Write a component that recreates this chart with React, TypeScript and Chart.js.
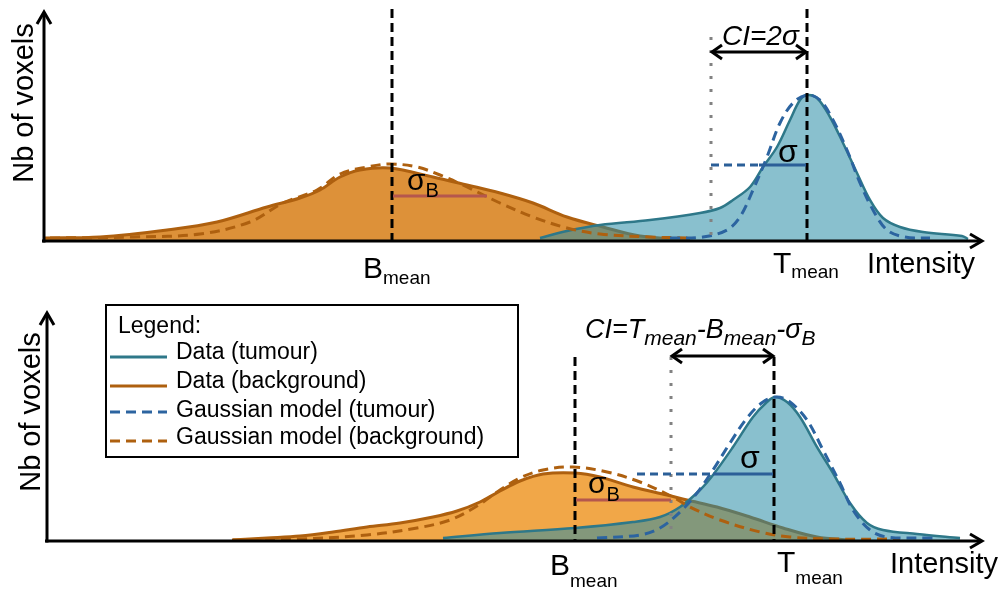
import { useEffect, useRef } from "react";
import { Chart, registerables } from "chart.js";

Chart.register(...registerables);

const FONT = '"Liberation Sans", Arial, Helvetica, sans-serif';

// ---------- Upper panel: tumour peak well separated from background (CI = 2σ) ----------
const upperBgIntensity = [1, 56, 123, 173, 223, 256, 276, 296, 316, 346, 389, 423, 456, 489, 523, 559, 596, 646];
const upperBgCount = [3, 4, 11, 19, 34, 43, 51, 64, 71, 73, 64, 56, 48, 38, 24, 14, 5, 1];
const upperBgFitIntensity = [6, 89, 156, 206, 239, 273, 296, 323, 346, 373, 396, 423, 456, 489, 523, 556, 606, 646];
const upperBgFitCount = [3, 4, 7, 19, 38, 51, 67, 74, 77, 74, 66, 54, 38, 24, 13, 7, 4, 3];
const upperTuIntensity = [496, 523, 556, 606, 656, 676, 689, 706, 719, 733, 746, 756, 763, 773, 786, 799, 813, 826, 839, 856, 879, 918, 924];
const upperTuCount = [3, 10, 16, 21, 28, 33, 41, 54, 74, 94, 121, 141, 146, 143, 124, 98, 68, 41, 23, 14, 9, 5, 2];
const upperTuFitIntensity = [626, 659, 683, 696, 709, 723, 736, 749, 763, 776, 789, 803, 816, 829, 843, 861, 886];
const upperTuFitCount = [3, 4, 11, 24, 51, 84, 118, 138, 146, 141, 121, 91, 58, 31, 11, 4, 3];

const upperBMean = 348;
const upperTMean = 763;
const upperSigmaT = 48;
const upperSigmaB = 95;

// ---------- Lower panel: overlapping distributions (CI = Tmean - Bmean - σB) ----------
const lowerBgIntensity = [185, 220, 253, 286, 320, 353, 386, 410, 433, 453, 473, 496, 528, 553, 586, 620, 640, 670, 703, 736, 770, 803];
const lowerBgCount = [1, 3, 5, 9, 14, 18, 24, 30, 39, 50, 60, 67, 68, 64, 54, 46, 41, 34, 24, 13, 4, 1];
const lowerBgFitIntensity = [186, 253, 320, 370, 403, 430, 453, 473, 496, 526, 560, 593, 626, 643, 673, 713, 743, 786, 853];
const lowerBgFitCount = [1, 2, 6, 13, 21, 35, 51, 63, 71, 74, 69, 59, 44, 34, 21, 9, 4, 2, 2];
const lowerTuIntensity = [396, 453, 528, 586, 613, 633, 653, 666, 686, 706, 720, 728, 740, 753, 770, 786, 803, 820, 836, 870, 913];
const lowerTuCount = [3, 8, 13, 19, 24, 34, 51, 66, 94, 124, 139, 144, 139, 124, 94, 68, 38, 18, 11, 7, 3];
const lowerTuFitIntensity = [550, 593, 613, 633, 650, 666, 683, 700, 716, 730, 743, 760, 776, 793, 806, 823, 840, 886];
const lowerTuFitCount = [3, 6, 13, 29, 48, 71, 98, 123, 139, 144, 139, 121, 91, 58, 31, 11, 4, 3];

const lowerBMean = 528;
const lowerTMean = 727;
const lowerSigmaT = 61;
const lowerSigmaB = 96;

const legendEntries = [
  "Data (tumour)",
  "Data (background)",
  "Gaussian model (tumour)",
  "Gaussian model (background)",
];

const COLORS = {
  bgLine: "#ae600f",
  bgFillUpper: "#dd9139",
  bgFillLower: "#f1a748",
  tuLine: "#2e7889",
  tuFill: "rgba(40,140,165,0.55)",
  tuFit: "#2c64a0",
  sigma: "#2b5f98",
  sigmaB: "#b5574d",
  guide: "#828282",
};

type Run = { text: string; size: number; italic?: boolean; dy?: number };
type Label = { x: number; y: number; runs: Run[]; align?: "left" | "center"; rotate?: boolean };

interface Panel {
  bg: [number[], number[]];
  bgFit: [number[], number[]];
  tu: [number[], number[]];
  tuFit: [number[], number[]];
  bgFill: string;
  bMean: number;
  tMean: number;
  sigmaT: number;
  sigmaTLevel: number;
  sigmaGuideFrom: number;
  sigmaB: number;
  sigmaBLevel: number;
  ciFrom: number;
  ciLevel: number;
  guideTop: number;
  guideBottom: number;
  meanTop: number;
  xMax: number;
  yMax: number;
  padding: { left: number; right: number; top: number; bottom: number };
  tipGap: number;
  labels: Label[];
  legend: boolean;
}

const sub = (text: string, size: number, dy: number, italic = false): Run => ({ text, size, dy, italic });
const big = (text: string, size: number, italic = false): Run => ({ text, size, italic });

const upperPanel: Panel = {
  bg: [upperBgIntensity, upperBgCount],
  bgFit: [upperBgFitIntensity, upperBgFitCount],
  tu: [upperTuIntensity, upperTuCount],
  tuFit: [upperTuFitIntensity, upperTuFitCount],
  bgFill: COLORS.bgFillUpper,
  bMean: upperBMean,
  tMean: upperTMean,
  sigmaT: upperSigmaT,
  sigmaTLevel: 76,
  sigmaGuideFrom: upperTMean - 2 * upperSigmaT,
  sigmaB: upperSigmaB,
  sigmaBLevel: 45,
  ciFrom: upperTMean - 2 * upperSigmaT,
  ciLevel: 189,
  guideTop: 204,
  guideBottom: 3,
  meanTop: 232,
  xMax: 936,
  yMax: 232,
  padding: { left: 44, right: 25, top: 9, bottom: 49 },
  tipGap: 3,
  legend: false,
  labels: [
    { x: -11, y: 138, runs: [big("Nb of voxels", 29)], align: "center", rotate: true },
    { x: 319, y: -37, runs: [big("B", 30), sub("mean", 19, 6)] },
    { x: 729, y: -32, runs: [big("T", 30), sub("mean", 19, 5)] },
    { x: 823, y: -32, runs: [big("Intensity", 29)] },
    { x: 734, y: 79, runs: [big("σ", 32)] },
    { x: 363, y: 51, runs: [big("σ", 30), sub("B", 20, 7)] },
    { x: 678, y: 196, runs: [big("CI=2σ", 28, true)] },
  ],
};

const lowerPanel: Panel = {
  bg: [lowerBgIntensity, lowerBgCount],
  bgFit: [lowerBgFitIntensity, lowerBgFitCount],
  tu: [lowerTuIntensity, lowerTuCount],
  tuFit: [lowerTuFitIntensity, lowerTuFitCount],
  bgFill: COLORS.bgFillLower,
  bMean: lowerBMean,
  tMean: lowerTMean,
  sigmaT: lowerSigmaT,
  sigmaTLevel: 67,
  sigmaGuideFrom: 590,
  sigmaB: lowerSigmaB,
  sigmaBLevel: 41,
  ciFrom: lowerBMean + lowerSigmaB,
  ciLevel: 185,
  guideTop: 184,
  guideBottom: 9,
  meanTop: 184,
  xMax: 933,
  yMax: 232,
  padding: { left: 47, right: 25, top: 19, bottom: 48 },
  tipGap: 4,
  legend: true,
  labels: [
    { x: -7, y: 129, runs: [big("Nb of voxels", 29)], align: "center", rotate: true },
    { x: 503, y: -34, runs: [big("B", 30), sub("mean", 19, 12)] },
    { x: 730, y: -31, runs: [big("T", 30), sub("mean", 19, 12)] },
    { x: 843, y: -32, runs: [big("Intensity", 29)] },
    { x: 693, y: 73, runs: [big("σ", 32)] },
    { x: 541, y: 48, runs: [big("σ", 30), sub("B", 20, 8)] },
    {
      x: 538,
      y: 203,
      runs: [
        big("CI=T", 27, true),
        sub("mean", 21, 7, true),
        big("-B", 27, true),
        sub("mean", 21, 7, true),
        big("-σ", 27, true),
        sub("B", 21, 7, true),
      ],
    },
  ],
};

const fontOf = (r: Run) => `${r.italic ? "italic " : ""}${r.size}px ${FONT}`;

function drawRuns(ctx: CanvasRenderingContext2D, x: number, y: number, runs: Run[], align: "left" | "center") {
  const widths = runs.map((r) => {
    ctx.font = fontOf(r);
    return ctx.measureText(r.text).width;
  });
  const total = widths.reduce((s, w) => s + w, 0);
  let cx = align === "center" ? x - total / 2 : x;
  ctx.textAlign = "left";
  ctx.textBaseline = "alphabetic";
  runs.forEach((r, i) => {
    ctx.font = fontOf(r);
    ctx.fillText(r.text, cx, y + (r.dy || 0));
    cx += widths[i];
  });
}

function chevron(ctx: CanvasRenderingContext2D, x: number, y: number, dx: number, dy: number, len: number, half: number) {
  // dx,dy: unit direction the arrow points to
  const bx = x - dx * len;
  const by = y - dy * len;
  ctx.beginPath();
  ctx.moveTo(bx - dy * half, by + dx * half);
  ctx.lineTo(x, y);
  ctx.lineTo(bx + dy * half, by - dx * half);
  ctx.stroke();
}

function line(
  ctx: CanvasRenderingContext2D,
  x0: number,
  y0: number,
  x1: number,
  y1: number,
  color: string,
  width: number,
  dash: number[] = []
) {
  ctx.strokeStyle = color;
  ctx.lineWidth = width;
  ctx.setLineDash(dash);
  ctx.beginPath();
  ctx.moveTo(x0, y0);
  ctx.lineTo(x1, y1);
  ctx.stroke();
  ctx.setLineDash([]);
}

function makeDiagramPlugin(p: Panel) {
  return {
    id: "diagram",
    afterDatasetsDraw(chart: Chart) {
      const { ctx, chartArea: a, scales } = chart;
      const px = (v: number) => scales.x.getPixelForValue(v);
      const py = (v: number) => scales.y.getPixelForValue(v);
      ctx.save();
      ctx.lineCap = "butt";
      ctx.lineJoin = "miter";

      // axes with open arrow heads
      const yTip = a.top + p.tipGap;
      const xTip = a.right + 2;
      line(ctx, a.left, a.bottom + 1.5, a.left, yTip + 1, "#000", 3);
      line(ctx, a.left - 2, a.bottom, xTip - 1, a.bottom, "#000", 3);
      ctx.strokeStyle = "#000";
      ctx.lineWidth = 3;
      chevron(ctx, a.left, yTip, 0, -1, 12, 7);
      chevron(ctx, xTip, a.bottom, 1, 0, 12, 7);

      // confidence-interval guide (dotted) and double arrow
      line(ctx, px(p.ciFrom), py(p.guideTop), px(p.ciFrom), py(p.guideBottom), COLORS.guide, 3, [3, 10]);
      const ay = py(p.ciLevel);
      line(ctx, px(p.ciFrom) + 2, ay, px(p.tMean) - 2, ay, "#000", 3);
      ctx.strokeStyle = "#000";
      ctx.lineWidth = 3;
      chevron(ctx, px(p.ciFrom) + 1, ay, -1, 0, 10, 7);
      chevron(ctx, px(p.tMean) - 1, ay, 1, 0, 10, 7);

      // mean markers
      line(ctx, px(p.bMean), py(p.meanTop), px(p.bMean), a.bottom, "#000", 3, [9, 5]);
      line(ctx, px(p.tMean), py(p.meanTop), px(p.tMean), a.bottom, "#000", 3, [9, 5]);

      // sigma of tumour and of background
      const sy = py(p.sigmaTLevel);
      line(ctx, px(p.sigmaGuideFrom), sy, px(p.tMean - p.sigmaT), sy, COLORS.sigma, 3, [8, 5]);
      line(ctx, px(p.tMean - p.sigmaT), sy, px(p.tMean) - 1, sy, COLORS.sigma, 3);
      const by = py(p.sigmaBLevel);
      line(ctx, px(p.bMean) + 1, by, px(p.bMean + p.sigmaB), by, COLORS.sigmaB, 3);

      // text labels
      ctx.fillStyle = "#000";
      p.labels.forEach((l) => {
        const x = px(l.x);
        const y = py(l.y);
        if (l.rotate) {
          ctx.save();
          ctx.translate(x, y);
          ctx.rotate(-Math.PI / 2);
          drawRuns(ctx, 0, 0, l.runs, "center");
          ctx.restore();
        } else {
          drawRuns(ctx, x, y, l.runs, l.align || "left");
        }
      });

      // legend box
      if (p.legend) {
        ctx.strokeStyle = "#000";
        ctx.lineWidth = 2;
        ctx.strokeRect(106, 15, 412, 152);
        ctx.fillStyle = "#000";
        ctx.font = `23px ${FONT}`;
        ctx.textAlign = "left";
        ctx.textBaseline = "alphabetic";
        ctx.fillText("Legend:", 118, 43);
        const ds = chart.data.datasets as any[];
        const order = [1, 0, 3, 2];
        const lineYs = [67, 96, 122, 151];
        const textYs = [69, 98, 127, 154];
        order.forEach((di, i) => {
          const d = ds[di];
          line(ctx, 110, lineYs[i], 167, lineYs[i], d.borderColor, 3, d.borderDash || []);
          ctx.fillStyle = "#000";
          ctx.font = `23px ${FONT}`;
          ctx.fillText(legendEntries[i], 176, textYs[i]);
        });
      }
      ctx.restore();
    },
  };
}

const pts = ([xs, ys]: [number[], number[]]) => xs.map((x, i) => ({ x, y: ys[i] }));

function buildConfig(p: Panel): any {
  const common = {
    pointRadius: 0,
    tension: 0.35,
    borderCapStyle: "butt",
  };
  return {
    type: "line",
    data: {
      datasets: [
        {
          ...common,
          label: "Data (background)",
          data: pts(p.bg),
          borderColor: COLORS.bgLine,
          borderWidth: 3,
          backgroundColor: p.bgFill,
          fill: "origin",
          order: 4,
        },
        {
          ...common,
          label: "Data (tumour)",
          data: pts(p.tu),
          borderColor: COLORS.tuLine,
          borderWidth: 2.5,
          backgroundColor: COLORS.tuFill,
          fill: "origin",
          order: 3,
        },
        {
          ...common,
          label: "Gaussian model (background)",
          data: pts(p.bgFit),
          borderColor: COLORS.bgLine,
          borderWidth: 3,
          borderDash: [10, 6],
          fill: false,
          order: 2,
        },
        {
          ...common,
          label: "Gaussian model (tumour)",
          data: pts(p.tuFit),
          borderColor: COLORS.tuFit,
          borderWidth: 3,
          borderDash: [10, 6],
          fill: false,
          order: 1,
        },
      ],
    },
    options: {
      animation: false,
      responsive: false,
      devicePixelRatio: 1,
      layout: { padding: p.padding },
      scales: {
        x: { type: "linear", min: 0, max: p.xMax, display: false },
        y: { type: "linear", min: 0, max: p.yMax, display: false },
      },
      plugins: {
        legend: { display: false },
        tooltip: { enabled: false },
      },
      events: [],
    },
    plugins: [makeDiagramPlugin(p)],
  };
}

function PanelChart({ panel, height }: { panel: Panel; height: number }) {
  const ref = useRef<HTMLCanvasElement | null>(null);
  useEffect(() => {
    if (!ref.current) return;
    const chart = new Chart(ref.current, buildConfig(panel));
    return () => chart.destroy();
  }, [panel]);
  return <canvas ref={ref} width={1005} height={height} style={{ display: "block", width: 1005, height }} />;
}

export default function App() {
  return (
    <div style={{ position: "absolute", left: 0, top: 0, width: 1005, height: 589, background: "#fff" }}>
      <PanelChart panel={upperPanel} height={290} />
      <PanelChart panel={lowerPanel} height={299} />
    </div>
  );
}
